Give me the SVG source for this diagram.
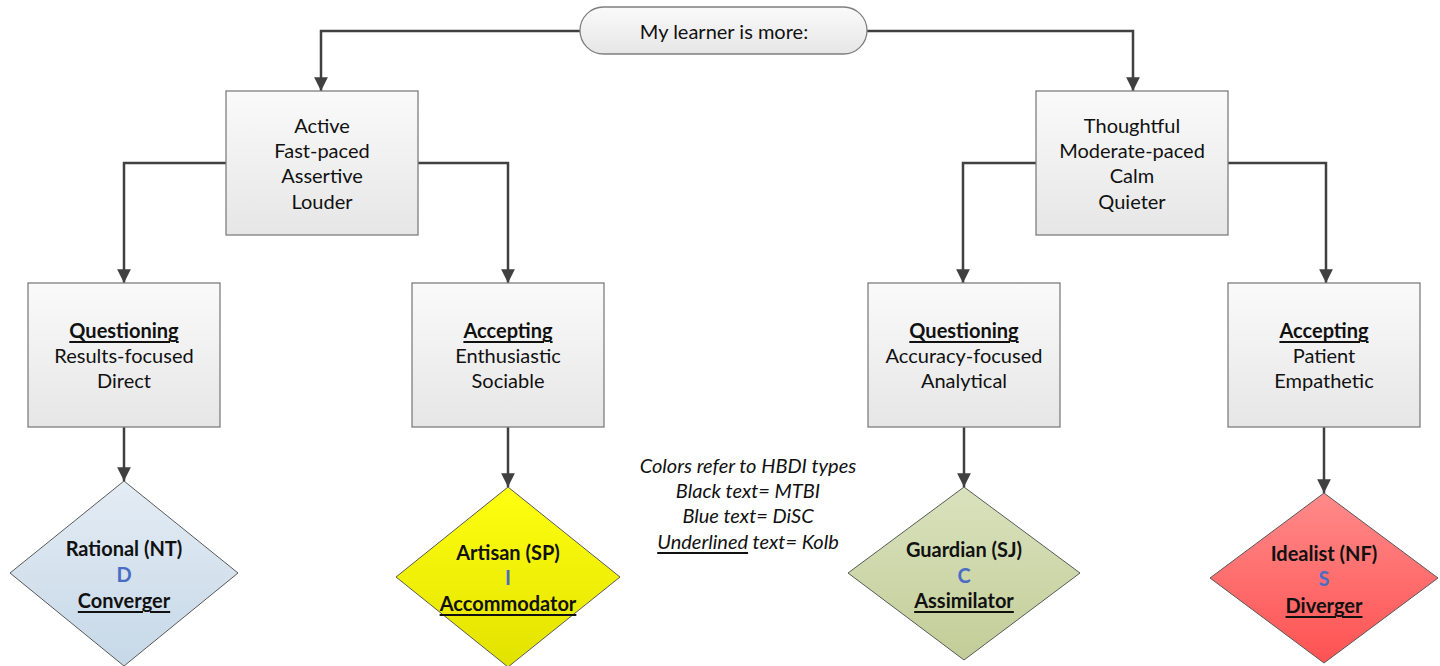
<svg xmlns="http://www.w3.org/2000/svg" width="1440" height="666" viewBox="0 0 1440 666">
  <style>
    text { font-family: Lato, "Open Sans", "Liberation Sans", sans-serif; font-size: 20px; fill: #111; text-anchor: middle; dominant-baseline: central; }
    .b { font-weight: bold; }
    .u { text-decoration: underline; }
    .i { font-style: italic; }
    .blue { fill: #4a6cc4; font-weight: bold; }
    .box { stroke: #7f7f7f; stroke-width: 1.3; fill: url(#gBox); }
    .dia { stroke: #595959; stroke-width: 1; }
    .conn { fill: none; stroke: #404040; stroke-width: 2.5; marker-end: url(#arr); }
  </style>
  <defs>
    <linearGradient id="gBox" x1="0" y1="0" x2="0" y2="1">
      <stop offset="0" stop-color="#fafafa"/>
      <stop offset="1" stop-color="#e6e6e6"/>
    </linearGradient>
    <linearGradient id="gBlue" x1="0" y1="0" x2="0" y2="1">
      <stop offset="0" stop-color="#e4ecf4"/>
      <stop offset="1" stop-color="#c6d8e8"/>
    </linearGradient>
    <linearGradient id="gYellow" x1="0" y1="0" x2="0" y2="1">
      <stop offset="0" stop-color="#ffff10"/>
      <stop offset="1" stop-color="#e2e200"/>
    </linearGradient>
    <linearGradient id="gGreen" x1="0" y1="0" x2="0" y2="1">
      <stop offset="0" stop-color="#d9e2bd"/>
      <stop offset="1" stop-color="#c3cd98"/>
    </linearGradient>
    <linearGradient id="gRed" x1="0" y1="0" x2="0" y2="1">
      <stop offset="0" stop-color="#ff8a8a"/>
      <stop offset="1" stop-color="#ff5252"/>
    </linearGradient>
    <marker id="arr" viewBox="0 0 10 10" refX="10" refY="5" markerWidth="5.5" markerHeight="5.5" markerUnits="strokeWidth" orient="auto">
      <path d="M0,0 L10,5 L0,10 z" fill="#404040"/>
    </marker>
  </defs>

  <!-- connectors -->
  <g id="connectors">
    <path class="conn" d="M580,31 H321 V91"/>
    <path class="conn" d="M867,31 H1133 V91"/>
    <path class="conn" d="M226,163 H124 V283"/>
    <path class="conn" d="M418,163 H508 V283"/>
    <path class="conn" d="M1036,163 H963 V283"/>
    <path class="conn" d="M1228,163 H1326 V283"/>
    <path class="conn" d="M124,427 V481"/>
    <path class="conn" d="M508,427 V487"/>
    <path class="conn" d="M964,427 V487"/>
    <path class="conn" d="M1324,427 V493"/>
  </g>

  <g id="start">
    <rect x="580" y="7" width="287" height="47" rx="23.5" ry="23.5" fill="url(#gBox)" stroke="#7f7f7f" stroke-width="1.3"/>
    <text x="724" y="31">My learner is more:</text>
  </g>

  <g id="active">
    <rect class="box" x="226" y="91" width="192" height="144"/>
    <text x="322" y="125">Active</text>
    <text x="322" y="150">Fast-paced</text>
    <text x="322" y="175">Assertive</text>
    <text x="322" y="201">Louder</text>
  </g>

  <g id="thoughtful">
    <rect class="box" x="1036" y="91" width="192" height="144"/>
    <text x="1132" y="125">Thoughtful</text>
    <text x="1132" y="150">Moderate-paced</text>
    <text x="1132" y="175">Calm</text>
    <text x="1132" y="201">Quieter</text>
  </g>

  <g id="questioning-active">
    <rect class="box" x="28" y="283" width="192" height="144"/>
    <text class="b u" x="124" y="330">Questioning</text>
    <text x="124" y="355">Results-focused</text>
    <text x="124" y="380">Direct</text>
  </g>

  <g id="accepting-active">
    <rect class="box" x="412" y="283" width="192" height="144"/>
    <text class="b u" x="508" y="330">Accepting</text>
    <text x="508" y="355">Enthusiastic</text>
    <text x="508" y="380">Sociable</text>
  </g>

  <g id="questioning-thoughtful">
    <rect class="box" x="868" y="283" width="192" height="144"/>
    <text class="b u" x="964" y="330">Questioning</text>
    <text x="964" y="355">Accuracy-focused</text>
    <text x="964" y="380">Analytical</text>
  </g>

  <g id="accepting-thoughtful">
    <rect class="box" x="1228" y="283" width="192" height="144"/>
    <text class="b u" x="1324" y="330">Accepting</text>
    <text x="1324" y="355">Patient</text>
    <text x="1324" y="380">Empathetic</text>
  </g>

  <g id="rational">
    <polygon class="dia" points="124,481 238,573 124,666 10,573" fill="url(#gBlue)"/>
    <text class="b" x="124" y="548">Rational (NT)</text>
    <text class="blue" x="124" y="574">D</text>
    <text class="b u" x="124" y="600">Converger</text>
  </g>

  <g id="artisan">
    <polygon class="dia" points="508,487 620,577 508,667 396,577" fill="url(#gYellow)"/>
    <text class="b" x="508" y="552">Artisan (SP)</text>
    <text class="blue" x="508" y="577">I</text>
    <text class="b u" x="508" y="603">Accommodator</text>
  </g>

  <g id="guardian">
    <polygon class="dia" points="964,487 1080,573 964,660 848,573" fill="url(#gGreen)"/>
    <text class="b" x="964" y="549">Guardian (SJ)</text>
    <text class="blue" x="964" y="575">C</text>
    <text class="b u" x="964" y="600">Assimilator</text>
  </g>

  <g id="idealist">
    <polygon class="dia" points="1324,493 1438,578 1324,663 1210,578" fill="url(#gRed)"/>
    <text class="b" x="1324" y="553">Idealist (NF)</text>
    <text class="blue" x="1324" y="578">S</text>
    <text class="b u" x="1324" y="605">Diverger</text>
  </g>

  <g id="legend">
    <text class="i" x="748" y="465">Colors refer to HBDI types</text>
    <text class="i" x="748" y="490">Black text= MTBI</text>
    <text class="i" x="748" y="515">Blue text= DiSC</text>
    <text class="i" x="748" y="541"><tspan class="u">Underlined</tspan> text= Kolb</text>
  </g>
</svg>
